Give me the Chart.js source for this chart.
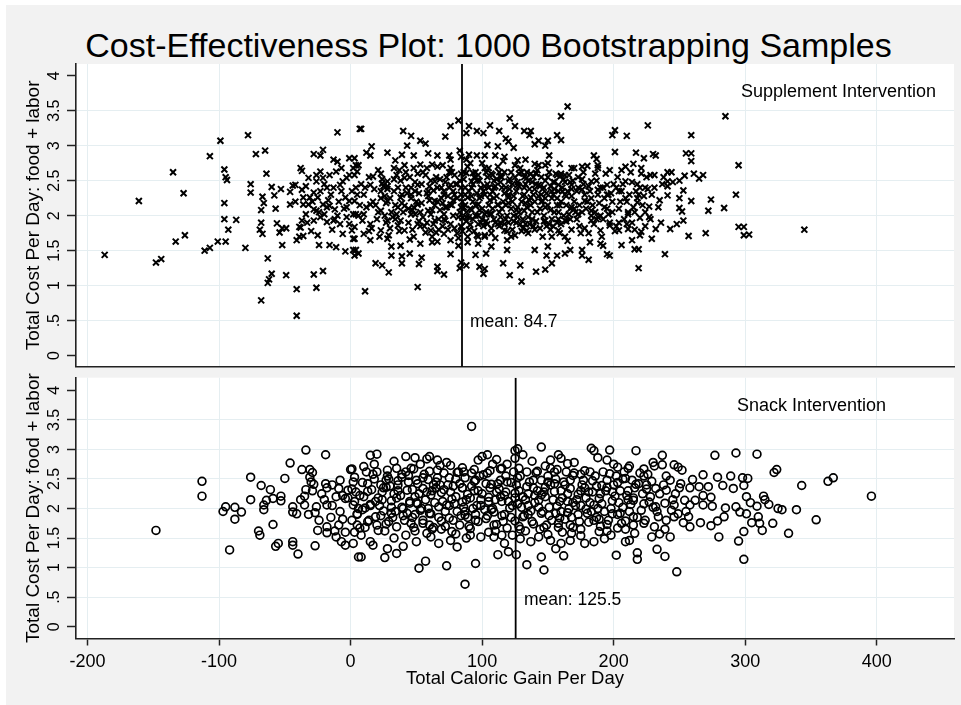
<!DOCTYPE html>
<html>
<head>
<meta charset="utf-8">
<title>Cost-Effectiveness Plot</title>
<script src="https://cdn.jsdelivr.net/npm/chart.js@4.4.1/dist/chart.umd.min.js"></script>
<style>
  html, body { margin: 0; padding: 0; background: #ffffff; }
  body { width: 961px; height: 705px; position: relative; overflow: hidden; font-family: "Liberation Sans", Arial, sans-serif; }
  #bg { position: absolute; left: 6px; top: 5px; width: 955px; height: 700px; background: #f2f2f2; }
  #title { position: absolute; left: 0; top: 26px; width: 977px; height: 38px; line-height: 38px; text-align: center; font-size: 34px; color: #000; }
  canvas { position: absolute; left: 0; }
  #topChart { top: 0; }
  #bottomChart { top: 372px; }
</style>
</head>
<body>
<div id="bg"></div>
<div id="title">Cost-Effectiveness Plot: 1000 Bootstrapping Samples</div>
<canvas id="topChart" width="961" height="373" style="width:961px;height:373px"></canvas>
<canvas id="bottomChart" width="961" height="333" style="width:961px;height:333px"></canvas>
<script>
// tick values and labels
const xTickValues = [-200, -100, 0, 100, 200, 300, 400];
const xTickLabels = ["-200", "-100", "0", "100", "200", "300", "400"];
const yTickValues = [0, 0.5, 1, 1.5, 2, 2.5, 3, 3.5, 4];
const yTickLabels = ["0", ".5", "1", "1.5", "2", "2.5", "3", "3.5", "4"];

const supplementMean = 84.7;
const snackMean = 125.5;

// supplement intervention bootstrap samples: [caloric gain, cost]
const supplementOuter = [
  [-187,1.44],[-161,2.21],[-148,1.33],[-144,1.38],[-135,2.62],[-127,2.32],[-133,1.63],[-126,1.72],[-107,2.85],[-99,3.07],
  [-78,3.15],[-111,1.50],[-107,1.54],[-101,1.63],[-95,1.63],[-96,2.66],[-95,2.55],[-94,2.51],[-96,2.18],[-96,1.95],
  [-93,1.80],[-87,1.94],[-80,1.54],[-72,2.88],[-65,2.93],[-64,2.60],[-76,2.45],[-76,2.33],[-67,2.27],[-66,2.18],
  [-68,2.08],[-68,1.90],[-69,1.80],[-67,1.74],[-63,1.39],[-60,1.17],[-62,1.09],[-63,1.04],[-68,0.79],[-49,1.15],
  [-41,0.95],[-41,0.57],[-28,1.16],[-21,1.21],[-26,0.97],[-52,1.58],[-57,2.10],[-60,2.41],[-58,2.29],[-56,1.89],
  [-54,1.76],[-52,1.82],[-49,1.82],[-41,1.65],[-36,1.71],[-38,1.83],[-25,1.72],[-24,1.58],[-16,1.58],[-11,1.55],
  [-4,1.49],[2,1.51],[3,1.43],[-10,3.19],[7,3.24],[-38,2.68],[-37,2.64],[-28,2.88],[-21,2.94],[-23,2.86],
  [-13,2.80],[-10,2.77],[-1,2.82],[-53,2.38],[-46,2.34],[-44,2.43],[-46,2.16],[-42,2.20]
];
const supplementLeftCluster = [
  [-42,2.44],[-37,2.37],[-34,2.42],[-36,2.26],[-32,2.16],[-28,2.09],[-26,2.07],[-25,2.26],[-21,2.16],[-18,2.12],
  [-16,2.14],[-12,2.09],[-13,2.40],[-18,2.40],[-23,2.35],[-28,2.33],[-8,2.44],[-6,2.49],[-1,2.58],[2,2.68],
  [4,2.72],[-4,2.26],[-1,2.21],[2,2.02],[-3,1.98],[-1,1.88],[-8,1.88],[-13,1.93],[-18,1.91],[-23,1.98],
  [-28,1.93],[-34,2.02],[-37,1.93],[-39,1.84],[1,1.79],[2,1.67],[-6,1.74],[-39,1.70],[-36,2.16],[-32,2.54],
  [-26,2.58],[-23,2.63],[-16,2.58],[-11,2.63],[-7,2.68],[-3,2.54],[-26,2.49],[-21,2.54],[-31,2.26],[-15,2.30],
  [-9,2.20],[-20,2.02],[-10,2.00],[-30,1.78],[-14,1.80],[-5,2.10]
];
const supplementUpper = [
  [165,3.56],[160,3.42],[121,3.39],[125,3.28],[82,3.36],[76,3.28],[72,3.13],[90,3.28],[88,3.18],[96,3.21],
  [101,3.18],[106,3.29],[113,3.21],[132,3.21],[137,3.21],[136,3.15],[157,3.15],[160,3.08],[199,3.15],[201,3.22],
  [210,3.14],[226,3.29],[8,3.24],[40,3.21],[46,3.14],[53,3.07],[57,3.03],[43,3.00],[16,2.99],[12,2.90],
  [15,2.86],[28,2.90],[39,2.87],[34,2.79],[48,2.86],[59,2.89],[66,2.86],[75,2.86],[83,2.93],[84,2.84],
  [104,3.01],[112,2.99],[118,3.10],[124,2.97],[120,3.06],[140,3.02],[143,3.07],[150,3.07],[148,3.00],[151,2.86],
  [159,2.74],[140,2.74],[148,2.72],[133,2.80],[127,2.79],[117,2.84],[110,2.86],[102,2.86],[96,2.86],[90,2.87],
  [185,2.86],[187,2.81],[201,2.91],[217,2.90],[223,2.82],[209,2.70],[215,2.74],[221,2.68],[228,2.58],[168,2.68],
  [176,2.70],[180,2.71],[188,2.68],[157,2.58],[159,2.56],[141,2.61],[134,2.54],[125,2.72],[3,2.82],[6,2.72],
  [5,2.63],[17,2.56],[24,2.46],[33,2.68],[41,2.72],[48,2.68],[53,2.73],[62,2.73],[70,2.72],[76,2.68],
  [88,2.61],[93,2.61],[102,2.68],[107,2.60],[114,2.56]
];
const supplementMiddle = [
  [4,1.51],[6,1.46],[19,1.32],[24,1.29],[29,1.19],[31,1.43],[31,1.56],[38,1.57],[39,1.42],[39,1.32],
  [45,1.46],[54,1.40],[52,1.31],[51,0.98],[11,0.92],[66,1.27],[66,1.21],[71,1.16],[76,1.45],[82,1.57],
  [84,1.33],[88,1.29],[83,1.25],[95,1.44],[98,1.27],[102,1.24],[101,1.17],[103,1.46],[107,1.56],[119,1.51],
  [116,1.32],[121,1.15],[129,1.29],[130,1.06],[141,1.20],[148,1.23],[140,1.51],[150,1.56],[149,1.43],[153,1.32],
  [157,1.43],[163,1.46],[167,1.51],[165,1.64],[176,1.51],[176,1.43],[181,1.37],[182,1.62],[190,1.60],[192,1.57],
  [195,1.45],[197,1.43],[197,1.86],[204,1.79],[206,1.58],[211,1.81],[214,1.65],[216,1.52],[219,1.52],[219,1.25],
  [220,1.97],[221,1.77],[227,1.98],[227,2.13],[218,2.19],[211,2.05],[224,2.40],[218,2.45],[209,2.49],[204,2.35],
  [196,2.30],[193,2.12],[188,1.98],[183,1.93],[190,1.79],[183,2.07],[178,2.21],[176,2.37],[183,2.49],[188,2.37],
  [195,2.44],[168,2.44],[163,2.30],[168,2.12],[173,2.02],[163,1.93],[158,1.79],[153,1.70],[148,1.93],[146,2.21],
  [153,2.35],[158,2.44],[143,2.44],[137,2.26],[132,2.07],[129,1.88],[134,1.79],[122,1.70],[117,1.79],[112,1.88],
  [107,2.02],[112,2.16],[120,2.26],[127,2.44],[120,2.49],[109,2.40],[102,2.30],[97,2.16],[102,2.02],[97,1.88],
  [102,1.70],[97,1.60],[89,1.70],[84,1.84],[88,1.98],[84,2.12],[89,2.26],[84,2.40],[92,2.49],[76,2.44],
  [71,2.30],[76,2.16],[71,2.02],[76,1.88],[71,1.74],[66,1.63],[61,1.79],[64,1.93],[59,2.07],[64,2.21],
  [59,2.35],[64,2.49],[51,2.44],[46,2.30],[51,2.16],[46,2.02],[51,1.88],[48,1.70],[53,1.60],[41,1.79],
  [38,1.93],[36,2.12],[38,2.26],[36,2.40],[41,2.54],[28,2.49],[23,2.35],[28,2.21],[23,2.07],[28,1.93],
  [23,1.79],[28,1.67],[15,1.65],[10,1.74],[15,1.88],[10,2.02],[15,2.16],[10,2.30],[15,2.44],[4,2.40],
  [3,2.21],[4,2.02],[3,1.84],[3,1.67]
];
const supplementRight = [
  [285,3.42],[259,3.15],[255,2.89],[259,2.89],[259,2.78],[230,2.88],[232,2.86],[295,2.72],[231,2.58],[241,2.62],
  [244,2.62],[254,2.57],[261,2.60],[265,2.53],[268,2.58],[237,2.45],[241,2.42],[241,2.49],[245,2.48],[250,2.50],
  [253,2.36],[229,2.30],[235,2.22],[241,2.29],[250,2.25],[259,2.21],[274,2.23],[293,2.30],[250,2.11],[252,2.06],
  [272,2.07],[284,2.11],[232,1.81],[243,1.81],[248,1.88],[253,1.93],[257,1.71],[270,1.75],[295,1.84],[299,1.84],
  [299,1.72],[303,1.73],[345,1.80],[239,1.45],[229,1.67]
];
const supplementCore = [
  [5,2.30],[12,2.12],[18,2.38],[20,1.95],[26,2.28],[31,2.05],[33,2.52],[36,1.86],[42,2.40],[44,2.10],
  [47,1.80],[52,2.32],[55,1.98],[57,2.58],[60,2.22],[62,1.70],[66,2.40],[68,2.08],[70,1.85],[73,2.55],
  [74,2.28],[78,2.00],[80,2.45],[81,1.75],[85,2.20],[86,2.62],[88,1.92],[90,2.35],[92,2.08],[94,1.78],
  [96,2.50],[98,2.25],[100,1.95],[103,2.62],[105,2.15],[107,1.82],[110,2.42],[113,2.05],[115,2.55],[117,1.88],
  [120,2.30],[122,2.10],[125,1.72],[127,2.48],[130,2.20],[131,1.95],[134,2.62],[136,2.38],[138,2.05],[140,1.80],
  [143,2.28],[145,2.55],[147,2.00],[150,2.15],[152,2.42],[154,1.85],[157,2.25],[160,2.60],[162,2.00],[165,2.35],
  [168,1.80],[170,2.20],[173,2.55],[176,2.05],[178,2.30],[181,1.75],[184,2.15],[186,2.60],[190,2.00],[193,2.25],
  [197,1.90],[200,2.45],[204,2.10],[208,1.95],[212,2.30],[216,2.05],[220,2.40],[224,1.85],[8,2.45],[14,1.78],
  [23,2.60],[29,1.72],[39,2.18],[49,2.48],[58,1.90],[64,2.15],[71,2.35],[76,1.65],[83,2.05],[87,2.40],
  [89,1.62],[91,2.75],[95,2.00],[99,2.40],[102,1.72],[106,2.30],[109,1.95],[112,2.70],[116,2.20],[119,1.65],
  [124,2.00],[128,2.60],[133,1.88],[137,2.15],[141,2.45],[146,1.70],[149,2.32],[155,2.05],[159,1.75],[163,2.48],
  [167,2.10],[172,1.95],[177,2.45],[183,2.00],[188,2.30],[195,2.10],[202,1.85],[210,2.20],[218,2.25],[6,2.00],
  [17,2.20],[27,1.90],[37,2.65],[46,2.25],[53,2.05],[61,2.50],[67,1.80],[72,2.12],[79,2.30],[84,1.85],
  [93,2.20],[97,1.70],[104,2.45],[108,2.10],[114,1.90],[118,2.40],[123,2.20],[126,1.90],[132,2.30],[135,1.75],
  [139,2.55],[144,2.10],[148,2.50],[153,1.95],[158,2.35],[164,2.15],[169,2.50],[174,1.85],[180,2.20],[187,1.95],
  [192,2.40],[199,2.20],[206,2.35],[214,1.90],[222,2.15]
];
const supplementCoreDense = [
  [1,2.35],[9,1.93],[14,2.55],[19,2.15],[22,1.70],[25,2.42],[30,2.25],[32,1.98],[35,2.58],[40,2.05],
  [43,2.32],[45,1.66],[50,2.20],[54,2.45],[56,1.85],[58,2.68],[61,2.02],[63,2.36],[65,1.76],[68,2.52],
  [70,2.18],[72,1.93],[75,2.40],[77,2.62],[79,1.82],[81,2.25],[83,2.50],[85,1.97],[87,2.30],[89,2.70],
  [91,1.87],[93,2.45],[95,2.15],[97,2.58],[99,1.90],[101,2.35],[103,2.05],[105,2.68],[107,1.75],[109,2.50],
  [111,2.28],[113,1.85],[115,2.40],[117,2.62],[119,2.00],[121,2.38],[123,1.80],[125,2.55],[127,2.12],[129,2.68],
  [131,2.28],[133,2.45],[135,1.98],[137,2.60],[139,2.30],[141,1.92],[143,2.72],[145,2.20],[147,2.40],[149,1.85],
  [151,2.62],[153,2.25],[155,2.48],[157,1.90],[159,2.15],[161,2.40],[163,1.70],[166,2.58],[168,2.28],[171,2.05],
  [173,2.40],[175,1.75],[177,2.62],[179,2.10],[182,2.35],[185,1.88],[187,2.50],[189,2.18],[191,1.70],[194,2.60],
  [196,2.02],[198,2.32],[201,1.78],[203,2.55],[205,2.20],[207,2.45],[210,1.88],[213,2.62],[215,2.12],[217,2.35],
  [220,1.72],[223,2.28],[225,2.55],[228,1.95],[231,2.40],[234,2.12],[236,1.90],[238,2.55],[3,2.58],[7,2.15],
  [11,2.40],[16,1.82],[21,2.65],[26,2.00],[28,2.38],[34,2.15],[37,1.78],[42,2.62],[47,2.08],[49,2.35],
  [52,1.92],[55,2.62],[59,2.28],[62,1.62],[66,2.70],[69,2.40],[73,2.12],[76,2.80],[78,2.35],[82,1.68],
  [84,2.60],[86,2.12],[88,2.80],[90,1.98],[92,2.28],[94,2.55],[96,1.72],[98,2.08],[100,2.75],[102,2.42],
  [104,1.88],[106,2.22],[108,2.58],[110,1.68],[112,2.15],[114,2.48],[116,2.78],[118,1.95],[120,2.18],[122,2.62],
  [124,1.92],[126,2.35],[128,2.05],[130,1.78],[132,2.55],[134,2.12],[136,1.88],[138,2.48],[140,2.20],[142,2.65],
  [144,1.82],[146,2.38],[148,2.12],[150,2.75],[152,1.80],[154,2.30],[156,2.60],[158,2.05],[160,1.88],[162,2.52],
  [164,2.28],[167,1.95],[170,2.68],[172,2.35],[174,2.15],[176,2.52],[178,1.82],[181,2.42],[183,2.25],[186,2.05],
  [188,2.72],[190,2.40],[192,1.95],[195,2.30],[197,2.65],[199,2.05],[202,2.40],[204,1.90],[206,2.65],[209,2.25],
  [211,2.02],[214,2.48],[216,1.80],[219,2.30],[221,2.60],[224,2.05],[226,2.38],[-3,2.12],[-7,2.35],[-12,1.95],
  [-17,2.22],[-20,2.45],[-24,2.05],[-29,2.20],[-33,1.90]
];
const supplementCenter = [
  [21,2.05],[24,2.52],[27,2.18],[30,1.82],[33,2.35],[35,2.02],[38,2.50],[41,2.14],[44,1.90],[46,2.40],
  [49,2.02],[51,2.60],[54,2.18],[57,1.76],[60,2.42],[62,2.08],[65,2.55],[67,1.95],[69,2.25],[72,2.48],
  [74,1.80],[77,2.15],[79,2.58],[82,1.98],[84,2.30],[86,2.52],[88,2.05],[90,1.80],[92,2.40],[95,2.62],
  [97,2.00],[99,2.28],[101,1.85],[104,2.55],[106,2.02],[108,2.35],[110,1.90],[113,2.62],[115,2.10],[117,2.32],
  [119,1.78],[121,2.52],[124,2.28],[126,2.08],[128,2.42],[131,1.82],[133,2.18],[135,2.50],[138,1.95],[140,2.38],
  [142,2.05],[145,2.30],[147,1.92],[150,2.55],[152,2.08],[155,2.38],[158,1.95],[160,2.20],[163,2.58],[166,2.02],
  [168,2.38],[23,2.25],[28,2.42],[34,1.95],[39,2.30],[45,2.55],[48,2.12],[53,1.85],[58,2.32],[63,1.88],
  [66,2.20],[71,1.95],[75,2.62],[78,2.22],[81,2.45],[85,1.78],[87,2.15],[91,2.10],[93,1.95],[96,2.32],
  [98,2.50],[100,2.10],[103,1.92],[105,2.40],[109,2.25],[111,2.52],[114,1.98],[118,2.15],[120,1.90],[123,2.45],
  [127,1.98],[130,2.62],[132,2.40],[136,2.22],[139,1.85],[141,2.60],[144,2.42],[148,2.25],[151,1.88],[154,2.48],
  [157,2.15],[161,2.35],[164,1.92],[167,2.48],[170,2.10]
];

// snack intervention bootstrap samples: [caloric gain, cost]
const snackLeft = [
  [-148,1.63],[-113,2.46],[-113,2.21],[-92,1.30],[-97,1.95],[-95,2.03],[-88,2.02],[-83,1.94],[-88,1.82],[-76,2.53],
  [-76,2.15],[-68,2.39],[-61,2.32],[-64,2.14],[-66,2.06],[-66,1.98],[-59,2.17],[-53,2.21],[-53,2.13],[-50,2.51],
  [-46,2.77],[-59,1.73],[-70,1.62],[-69,1.55],[-57,1.36],[-55,1.41],[-44,1.44],[-44,1.38],[-40,1.23],[-34,2.99],
  [-37,2.66],[-31,2.66],[-29,2.61],[-31,2.53],[-28,2.41],[-29,2.30],[-34,2.32],[-35,2.21],[-35,2.06],[-32,1.90],
  [-27,1.93],[-26,2.03],[-44,2.03],[-44,1.94],[-41,1.91],[-19,2.91],[-19,2.42],[-18,2.35],[-18,2.06],[-25,1.63],
  [-27,1.37],[-18,1.69],[-18,1.59],[-12,1.62],[-9,1.72],[-9,2.34],[-11,2.20],[-6,2.22],[-4,2.17],[-6,1.82],
  [-4,1.60],[-4,1.38],[-7,1.44],[-11,1.52],[0,2.66],[-2,2.31],[1,1.80],[3,1.60],[5,1.91],[6,1.18],
  [2,2.06],[-14,2.05],[-8,1.95],[-22,2.25],[-15,1.85]
];
const snackEdges = [
  [92,3.39],[87,0.72],[52,0.99],[57,1.11],[73,1.03],[95,1.07],[8,1.18],[26,1.17],[35,1.24],[147,0.96],
  [145,1.18],[134,1.05],[126,1.22],[112,1.22],[120,1.27],[162,1.20],[156,1.32],[202,1.21],[218,1.25],[218,1.14],
  [145,3.04],[125,2.98],[127,3.01],[183,3.02],[185,2.98],[197,2.99],[217,2.98],[15,2.90],[20,2.92],[33,2.80],
  [42,2.88],[49,2.86],[58,2.84],[66,2.82],[68,2.73],[76,2.73],[85,2.69],[97,2.82],[104,2.91],[111,2.83],
  [119,2.75],[131,2.91],[138,2.80],[152,2.82],[158,2.91],[165,2.76],[188,2.86],[195,2.82],[203,2.70],[211,2.68],
  [223,2.67],[1,2.67],[10,2.71],[28,2.65],[39,2.53],[48,2.67],[60,2.63],[81,2.61],[94,2.66],[106,2.64],
  [114,2.67],[142,2.63],[157,2.66],[178,2.64],[2,1.41],[15,1.44],[17,1.38],[28,1.32],[40,1.36],[50,1.44],
  [61,1.52],[67,1.41],[76,1.46],[81,1.35],[91,1.55],[99,1.52],[109,1.52],[117,1.41],[129,1.49],[137,1.44],
  [152,1.46],[160,1.41],[167,1.46],[178,1.41],[185,1.44],[193,1.49],[209,1.44],[212,1.46],[216,1.58]
];
const snackRight = [
  [396,2.21],[367,2.52],[363,2.46],[343,2.39],[339,1.98],[354,1.81],[333,1.58],[324,2.66],[322,2.61],[309,2.92],
  [293,2.94],[277,2.90],[237,2.90],[237,2.74],[246,2.74],[249,2.70],[252,2.65],[260,2.49],[268,2.57],[279,2.53],
  [289,2.55],[298,2.52],[302,2.51],[291,2.34],[299,2.39],[283,2.39],[272,2.37],[265,2.37],[258,2.35],[251,2.42],
  [243,2.48],[231,2.72],[232,2.34],[240,2.31],[247,2.25],[254,2.14],[262,2.14],[268,2.22],[274,2.19],[275,2.04],
  [268,2.06],[258,2.06],[246,2.06],[239,2.09],[232,2.03],[285,2.01],[293,2.03],[296,1.94],[301,1.91],[304,2.10],
  [301,2.20],[309,2.04],[314,2.21],[315,2.15],[318,2.07],[325,2.00],[328,1.98],[310,1.86],[311,1.75],[313,1.63],
  [305,1.76],[321,1.75],[284,1.86],[279,1.79],[274,1.71],[266,1.76],[258,1.69],[253,1.76],[257,1.86],[246,1.86],
  [240,1.80],[234,1.86],[239,1.65],[243,1.52],[235,1.57],[229,1.52],[233,1.31],[239,1.19],[248,0.93],[280,1.52],
  [299,1.61],[295,1.45],[299,1.14],[249,1.91],[244,1.97],[231,1.69]
];
const snackCore = [
  [3,2.53],[17,2.58],[29,2.50],[44,2.56],[59,2.49],[71,2.60],[87,2.52],[101,2.57],[114,2.48],[129,2.55],
  [141,2.61],[156,2.50],[169,2.56],[184,2.47],[197,2.59],[209,2.51],[223,2.55],[9,2.44],[23,2.40],[36,2.47],
  [51,2.42],[65,2.45],[78,2.38],[94,2.46],[107,2.41],[122,2.44],[134,2.37],[150,2.45],[163,2.40],[177,2.48],
  [191,2.39],[203,2.44],[217,2.41],[229,2.46],[1,2.33],[13,2.29],[27,2.36],[43,2.31],[55,2.34],[69,2.27],
  [85,2.35],[97,2.30],[113,2.33],[125,2.26],[139,2.35],[155,2.29],[167,2.34],[181,2.28],[195,2.36],[211,2.30],
  [225,2.33],[7,2.22],[21,2.18],[33,2.25],[49,2.20],[61,2.23],[77,2.16],[89,2.24],[105,2.19],[117,2.22],
  [133,2.15],[145,2.23],[161,2.18],[173,2.24],[189,2.17],[201,2.21],[215,2.14],[3,2.12],[15,2.07],[31,2.13],
  [45,2.09],[57,2.15],[73,2.06],[85,2.11],[99,2.05],[115,2.12],[127,2.08],[143,2.14],[157,2.04],[169,2.10],
  [185,2.06],[199,2.13],[213,2.07],[227,2.11],[11,2.01],[25,1.96],[39,2.02],[53,1.97],[67,2.03],[81,1.95],
  [93,2.00],[109,1.94],[121,2.01],[137,1.96],[151,2.02],[165,1.93],[179,1.99],[193,1.95],[207,2.02],[221,1.97],
  [5,1.90],[19,1.86],[31,1.92],[47,1.85],[61,1.91],[75,1.84],[87,1.89],[103,1.83],[117,1.90],[131,1.86],
  [145,1.92],[159,1.84],[173,1.90],[187,1.85],[199,1.91],[215,1.86],[13,1.78],[27,1.74],[41,1.80],[55,1.75],
  [69,1.79],[83,1.72],[97,1.78],[111,1.73],[125,1.79],[139,1.74],[153,1.80],[167,1.72],[181,1.77],[195,1.73],
  [209,1.79],[223,1.75],[7,1.67],[21,1.63],[35,1.69],[49,1.62],[63,1.68],[77,1.61],[91,1.66],[105,1.60],
  [119,1.67],[133,1.62],[147,1.68],[161,1.60],[175,1.65],[189,1.61],[203,1.67],[42,1.55],[80,1.57],[115,1.55],
  [150,1.56],[175,1.54],[36,2.40],[62,2.30],[92,2.38],[118,2.28],[148,2.36],[175,2.30],[50,2.10],[80,2.20],
  [110,2.15],[140,2.22],[165,2.12],[40,1.88],[72,1.95],[104,1.88],[135,2.05],[160,1.95],[60,1.72],[95,1.80],
  [128,1.70],[158,1.75],[24,2.28],[190,2.25],[205,1.92]
];
const snackCoreDense = [
  [2,2.45],[10,2.20],[14,1.80],[18,2.50],[22,2.05],[26,1.62],[30,2.38],[34,1.95],[38,2.22],[42,2.62],
  [46,1.75],[50,2.48],[54,2.00],[58,2.28],[62,1.65],[66,2.52],[70,2.12],[74,2.40],[78,1.80],[82,2.62],
  [86,2.02],[90,1.70],[94,2.30],[98,2.55],[102,1.98],[106,2.35],[110,1.62],[114,2.20],[118,2.55],[122,1.85],
  [126,2.40],[130,2.02],[134,2.62],[138,1.78],[142,2.30],[146,1.95],[150,2.55],[154,2.15],[158,1.68],[162,2.45],
  [166,2.00],[170,2.60],[174,1.78],[178,2.35],[182,2.10],[186,2.55],[190,1.70],[194,2.30],[198,2.00],[202,2.55],
  [206,1.75],[210,2.22],[214,2.48],[218,1.85],[222,2.25],[226,2.58],[230,2.02],[6,2.00],[12,2.62],[16,2.32],
  [20,1.72],[24,2.15],[28,2.55],[32,1.85],[36,2.30],[40,2.00],[44,2.45],[48,1.68],[52,2.25],[56,2.58],
  [60,1.92],[64,2.10],[68,2.40],[72,1.70],[76,2.28],[80,2.50],[84,1.88],[88,2.15],[92,2.60],[96,2.05],
  [100,2.25],[104,2.60],[108,2.00],[112,2.42],[116,1.78],[120,2.12],[124,2.62],[128,2.30],[132,1.88],[136,2.45],
  [140,2.10],[144,1.65],[148,2.20],[152,2.40],[156,1.92],[160,2.30],[164,2.62],[168,1.85],[172,2.15],[176,2.40],
  [180,1.92],[184,2.28],[188,2.00],[192,2.62],[196,1.80],[200,2.40],[204,2.10],[208,2.62],[212,1.95],[216,2.35],
  [220,2.60],[224,1.80],[228,2.20],[-2,2.18],[-8,2.48],[-14,2.40],[-20,2.15],[-24,1.80],[-30,2.45],[-38,2.15],
  [5,1.72],[15,2.05],[25,2.35],[35,2.68],[45,2.12],[55,1.80],[65,2.35],[75,2.05],[85,2.35],[95,1.90],
  [105,2.12],[115,2.68],[125,2.18],[135,2.25],[145,2.48],[155,2.62],[165,2.25],[175,2.05],[185,1.80],[195,2.48],
  [205,2.30],[215,2.18],[225,2.40],[235,2.25],[240,2.55],[245,2.15],[250,2.35],[255,1.95],[233,1.95],[238,2.40],
  [8,1.55],[33,1.50],[58,1.58],[88,1.50],[123,1.55],[143,1.52],[168,1.58],[198,1.55],[18,2.75],[53,2.75],
  [73,2.78],[108,2.75],[148,2.72],[170,2.78],[200,2.75],[125,2.85],[160,2.85],[100,2.88],[230,2.78],[60,2.88]
];
const snackCenter = [
  [4,2.28],[9,1.98],[13,2.42],[19,2.12],[23,1.88],[27,2.48],[31,2.02],[35,2.18],[39,2.58],[43,1.92],
  [47,2.32],[51,2.08],[55,2.52],[59,2.00],[63,2.40],[67,1.85],[71,2.32],[75,2.52],[79,2.08],[83,2.42],
  [87,1.95],[91,2.18],[95,2.48],[99,2.15],[103,2.42],[107,1.98],[111,2.28],[115,1.88],[119,2.45],[123,2.05],
  [127,2.52],[131,2.20],[135,1.90],[139,2.48],[143,2.02],[147,2.28],[151,1.88],[155,2.42],[159,2.12],[163,1.82],
  [167,2.48],[171,2.05],[175,2.58],[179,2.18],[183,1.95],[187,2.38],[191,2.08],[195,1.62],[199,2.28],[203,1.90],
  [207,2.50],[211,2.15],[215,1.72],[219,2.42],[223,2.08],[11,1.68],[29,1.78],[49,1.90],[69,1.65],[89,1.85],
  [109,1.72],[129,1.65],[149,1.72],[169,1.68],[189,1.82],[209,1.65],[20,2.62],[46,2.68],[86,2.62],[128,2.68],
  [152,2.68],[182,2.62],[212,2.72],[66,2.65]
];

const supplementPoints = supplementOuter.concat(supplementLeftCluster, supplementUpper, supplementMiddle, supplementRight, supplementCore, supplementCoreDense, supplementCenter);
const snackPoints = snackLeft.concat(snackEdges, snackRight, snackCore, snackCoreDense, snackCenter);

const yTitleText = "Total Cost Per Day: food + labor";
const xTitleText = "Total Caloric Gain Per Day";

const gridColor = "#e5eef1";
const axisColor = "#222222";
const fontFamily = "'Liberation Sans', Arial, Helvetica, sans-serif";

Chart.defaults.font.family = fontFamily;
Chart.defaults.color = "#000";

const X_MIN = -208.8;
const X_MAX = 458.8;

function toXY(rows) {
  return rows.map((r) => ({ x: r[0], y: r[1] }));
}

// white plot region + rotated y tick labels + in-plot texts
function panelPlugin(panelText, panelTextX, meanText, meanAt) {
  return {
    id: "panelDecor",
    beforeDraw(chart) {
      const a = chart.chartArea;
      const ctx = chart.ctx;
      ctx.save();
      ctx.fillStyle = "#ffffff";
      ctx.fillRect(a.left, a.top, a.right - a.left, a.bottom - a.top);
      ctx.restore();
    },
    afterDraw(chart) {
      const ctx = chart.ctx;
      const ys = chart.scales.y;
      const xs = chart.scales.x;
      const a = chart.chartArea;
      ctx.save();
      ctx.fillStyle = "#000";
      ctx.font = "16px " + fontFamily;
      ctx.textAlign = "center";
      ctx.textBaseline = "middle";
      yTickValues.forEach((v, i) => {
        const py = ys.getPixelForValue(v);
        ctx.save();
        ctx.translate(55, py);
        ctx.rotate(-Math.PI / 2);
        ctx.fillText(yTickLabels[i], 0, 0);
        ctx.restore();
      });
      ctx.font = "18px " + fontFamily;
      ctx.textAlign = "left";
      ctx.fillText(panelText, panelTextX, a.top + 28);
      ctx.font = "17.5px " + fontFamily;
      ctx.fillText(meanText, xs.getPixelForValue(meanAt.x), ys.getPixelForValue(meanAt.y));
      ctx.restore();
    },
  };
}

function makeChart(canvasId, cfg) {
  const isBottom = cfg.showXLabels;
  return new Chart(document.getElementById(canvasId), {
    type: "scatter",
    data: {
      datasets: [
        {
          label: "mean",
          data: [{ x: cfg.mean, y: cfg.yMin }, { x: cfg.mean, y: cfg.yMax }],
          showLine: true,
          borderColor: "#000",
          borderWidth: 1.8,
          pointRadius: 0,
        },
        {
          label: cfg.label,
          data: toXY(cfg.points),
          pointStyle: cfg.pointStyle,
          pointRadius: cfg.pointRadius,
          pointBorderWidth: cfg.pointBorderWidth,
          borderColor: "#000",
          backgroundColor: "rgba(0,0,0,0)",
        },
      ],
    },
    options: {
      responsive: false,
      animation: false,
      devicePixelRatio: 1,
      layout: { padding: { left: 0, right: 7, top: cfg.padTop, bottom: 0 } },
      plugins: { legend: { display: false }, tooltip: { enabled: false } },
      scales: {
        x: {
          type: "linear",
          min: X_MIN,
          max: X_MAX,
          afterBuildTicks(s) {
            s.ticks = xTickValues.map((v) => ({ value: v }));
          },
          afterFit(s) {
            s.height = cfg.xHeight;
          },
          ticks: {
            display: isBottom,
            font: { size: 18 },
            color: "#000",
            padding: 6,
            callback(value, index) {
              return xTickLabels[index];
            },
          },
          grid: {
            color: gridColor,
            lineWidth: 1,
            drawTicks: isBottom,
            tickLength: 7,
            tickColor: axisColor,
            tickWidth: 1.5,
          },
          border: { display: true, color: axisColor, width: 1.6 },
          title: {
            display: isBottom,
            text: xTitleText,
            font: { size: 18.5 },
            color: "#000",
            padding: { top: 0, bottom: 15 },
          },
        },
        y: {
          min: cfg.yMin,
          max: cfg.yMax,
          afterBuildTicks(s) {
            s.ticks = yTickValues.map((v) => ({ value: v }));
          },
          afterFit(s) {
            s.width = 76;
          },
          ticks: { display: false },
          grid: {
            color(c) {
              const v = c.tick ? c.tick.value : null;
              return v === 0 || v === 4 ? "rgba(0,0,0,0)" : gridColor;
            },
            lineWidth: 1,
            drawTicks: true,
            tickLength: 9,
            tickColor: axisColor,
            tickWidth: 1.5,
          },
          border: { display: true, color: axisColor, width: 1.6 },
          title: {
            display: true,
            text: yTitleText,
            font: { size: 19 },
            color: "#000",
            padding: { top: 22, bottom: 0 },
          },
        },
      },
    },
    plugins: [panelPlugin(cfg.panelText, cfg.panelTextX, cfg.meanText, cfg.meanAt)],
  });
}

makeChart("topChart", {
  label: "Supplement",
  points: supplementPoints,
  mean: supplementMean,
  yMin: -0.159,
  yMax: 4.167,
  padTop: 64,
  xHeight: 1,
  showXLabels: false,
  pointStyle: "crossRot",
  pointRadius: 4.2,
  pointBorderWidth: 2,
  panelText: "Supplement Intervention",
  panelTextX: 741,
  meanText: "mean: " + supplementMean,
  meanAt: { x: 90.8, y: 0.478 },
});

makeChart("bottomChart", {
  label: "Snack",
  points: snackPoints,
  mean: snackMean,
  yMin: -0.199,
  yMax: 4.214,
  padTop: 5,
  xHeight: 66.5,
  showXLabels: true,
  pointStyle: "circle",
  pointRadius: 3.9,
  pointBorderWidth: 1.7,
  panelText: "Snack Intervention",
  panelTextX: 737,
  meanText: "mean: " + snackMean,
  meanAt: { x: 131.8, y: 0.451 },
});
</script>
</body>
</html>
